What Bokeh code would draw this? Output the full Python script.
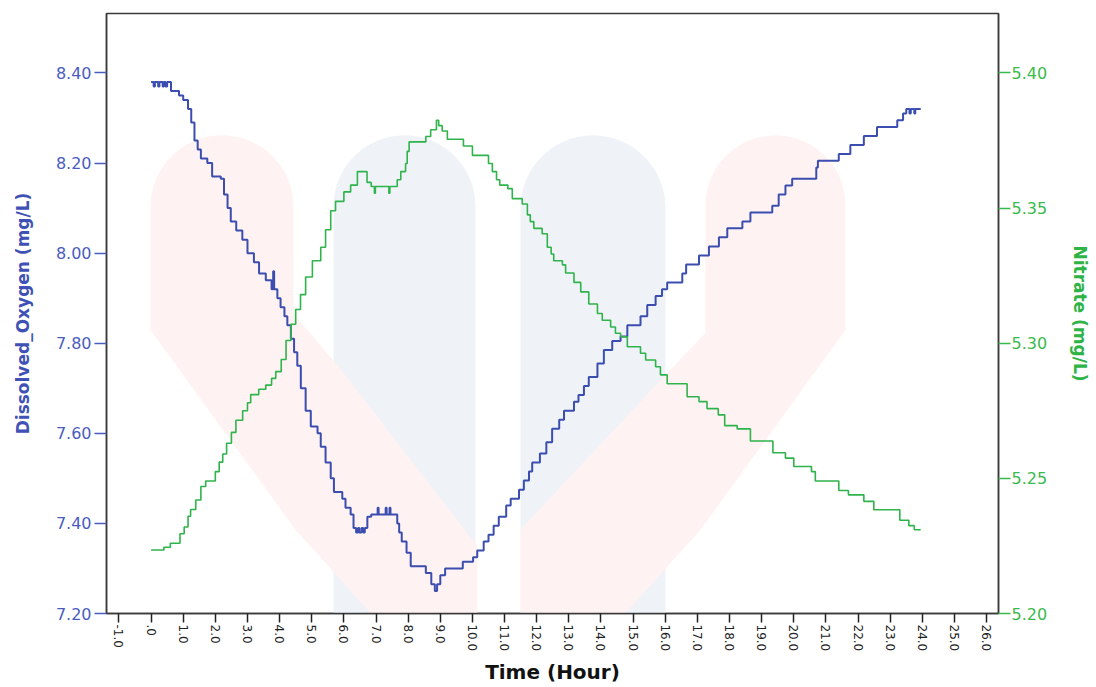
import math
from bokeh.plotting import figure
from bokeh.models import Range1d, LinearAxis, FixedTicker, PrintfTickFormatter
from bokeh.embed import file_html
from bokeh.resources import INLINE

# ---------------- data ----------------
do_time = [0.00, 0.08, 0.12, 0.22, 0.26, 0.36, 0.40, 0.45, 0.50,
           0.62, 0.87, 1.00, 1.15, 1.25, 1.35, 1.45, 1.55, 1.75, 1.90, 2.17,
           2.27, 2.38, 2.48, 2.65, 2.84, 3.00, 3.20, 3.36, 3.57, 3.75, 3.80,
           3.83, 3.93, 4.03, 4.15, 4.24, 4.35, 4.45, 4.55, 4.66, 4.81, 4.97,
           5.18, 5.28, 5.43, 5.59, 5.69, 5.95, 6.05, 6.21, 6.30, 6.38, 6.44,
           6.48, 6.55, 6.60, 6.65, 6.73, 6.85, 7.05, 7.08, 7.30, 7.33, 7.42,
           7.45, 7.66, 7.72, 7.80, 7.95, 8.08, 8.55, 8.72, 8.83, 8.90, 9.00,
           9.15, 9.70, 10.02, 10.15, 10.35, 10.50, 10.66, 10.82, 11.05, 11.19,
           11.45, 11.60, 11.76, 11.86, 12.10, 12.30, 12.48, 12.70, 12.85, 13.16,
           13.30, 13.47, 13.62, 13.89, 14.09, 14.35, 14.61, 14.82, 15.23, 15.44,
           15.70, 15.90, 16.06, 16.53, 16.65, 17.05, 17.36, 17.67, 17.93, 18.40,
           18.65, 19.33, 19.53, 19.74, 19.95, 20.70, 20.75, 21.40, 21.76, 22.18,
           22.59, 23.22, 23.40, 23.50, 23.60, 23.64, 23.75, 23.78, 23.95]
do_value = [8.38, 8.37, 8.38, 8.37, 8.38, 8.37, 8.38, 8.37, 8.38,
            8.36, 8.35, 8.34, 8.32, 8.29, 8.25, 8.23, 8.21, 8.20, 8.17, 8.165,
            8.13, 8.10, 8.07, 8.05, 8.03, 8.00, 7.98, 7.955, 7.94, 7.92, 7.96,
            7.92, 7.90, 7.88, 7.86, 7.84, 7.81, 7.78, 7.75, 7.70, 7.65, 7.615,
            7.60, 7.57, 7.535, 7.50, 7.47, 7.455, 7.435, 7.42, 7.39, 7.38, 7.39,
            7.38, 7.39, 7.38, 7.39, 7.415, 7.42, 7.435, 7.42, 7.435, 7.42, 7.435,
            7.42, 7.40, 7.38, 7.36, 7.335, 7.305, 7.29, 7.265, 7.25, 7.265, 7.285,
            7.30, 7.315, 7.325, 7.34, 7.36, 7.375, 7.395, 7.415, 7.44, 7.455,
            7.475, 7.495, 7.515, 7.535, 7.555, 7.58, 7.61, 7.63, 7.65, 7.67,
            7.685, 7.705, 7.725, 7.755, 7.785, 7.805, 7.815, 7.84, 7.86, 7.885,
            7.905, 7.92, 7.935, 7.955, 7.975, 7.995, 8.015, 8.035, 8.055, 8.07,
            8.09, 8.105, 8.13, 8.15, 8.165, 8.19, 8.205, 8.22, 8.24, 8.26,
            8.28, 8.295, 8.31, 8.32, 8.31, 8.32, 8.31, 8.32, 8.32]

no3_time = [0.00, 0.40, 0.60, 0.90, 1.03, 1.15, 1.23, 1.39, 1.55, 1.70,
            2.00, 2.12, 2.23, 2.35, 2.50, 2.64, 2.85, 3.00, 3.10, 3.35,
            3.57, 3.75, 3.88, 4.05, 4.20, 4.35, 4.50, 4.65, 4.81, 5.02,
            5.28, 5.43, 5.59, 5.74, 6.00, 6.21, 6.42, 6.72, 6.85, 6.95,
            6.98, 7.40, 7.43, 7.66, 7.77, 7.92, 7.97, 8.03, 8.55, 8.70,
            8.88, 8.95, 9.06, 9.22, 9.72, 10.00, 10.50, 10.62, 10.75, 10.85,
            11.10, 11.24, 11.55, 11.71, 11.80, 11.91, 12.17, 12.33, 12.45, 12.53,
            12.80, 12.90, 13.16, 13.37, 13.62, 13.89, 14.04, 14.30, 14.45, 14.61,
            14.82, 15.23, 15.39, 15.70, 15.85, 16.06, 16.68, 17.05, 17.30, 17.65,
            17.85, 18.24, 18.65, 19.35, 19.74, 20.00, 20.55, 20.67, 21.40, 21.70,
            22.18, 22.49, 23.30, 23.58, 23.75, 23.95]
no3_value = [5.2235, 5.2245, 5.2260, 5.2295, 5.2320, 5.2360, 5.2385, 5.2420, 5.2470, 5.2490,
             5.2525, 5.2560, 5.2590, 5.2630, 5.2670, 5.2715, 5.2750, 5.2780, 5.2810, 5.2830,
             5.2845, 5.2870, 5.2895, 5.2940, 5.3010, 5.3070, 5.3125, 5.3180, 5.3245, 5.3305,
             5.3355, 5.3420, 5.3490, 5.3525, 5.3560, 5.3585, 5.3635, 5.3595, 5.3580, 5.3555,
             5.3580, 5.3555, 5.3580, 5.3605, 5.3635, 5.3665, 5.3710, 5.3745, 5.3765, 5.3790,
             5.3825, 5.3805, 5.3785, 5.3755, 5.3730, 5.3695, 5.3665, 5.3635, 5.3605, 5.3585,
             5.3572, 5.3535, 5.3515, 5.3475, 5.3450, 5.3425, 5.3405, 5.3355, 5.3330, 5.3305,
             5.3290, 5.3260, 5.3225, 5.3190, 5.3145, 5.3110, 5.3085, 5.3060, 5.3037, 5.3024,
             5.2987, 5.2963, 5.2938, 5.2913, 5.2883, 5.2850, 5.2802, 5.2784, 5.2758, 5.2735,
             5.2695, 5.2683, 5.2638, 5.2595, 5.2575, 5.2544, 5.2525, 5.2490, 5.2455, 5.2439,
             5.2415, 5.2384, 5.2345, 5.2325, 5.2310, 5.2310]

x_ticks = list(range(-1, 27))
do_ticks = [7.20, 7.40, 7.60, 7.80, 8.00, 8.20, 8.40]
no3_ticks = [5.20, 5.25, 5.30, 5.35, 5.40]

x_title = "Time (Hour)"
do_title = "Dissolved_Oxygen (mg/L)"
no3_title = "Nitrate (mg/L)"

# ---------------- styles ----------------
X_RANGE = (-1.387, 26.37)
DO_RANGE = (7.20, 8.532)
NO3_RANGE = (5.20, 5.422)

DO_LINE = "#3b4daf"
NO3_LINE = "#2fb34b"
DO_TEXT = "#4a5cc0"
NO3_TEXT = "#3aba4c"
FONT = "DejaVu Sans"

p = figure(width=1096, height=687, output_backend="svg", toolbar_location=None,
           min_border_left=106, min_border_right=98, min_border_top=13, min_border_bottom=73,
           x_range=Range1d(*X_RANGE), y_range=Range1d(*DO_RANGE))
p.extra_y_ranges = {"no3": Range1d(*NO3_RANGE)}
p.background_fill_color = "white"
p.border_fill_color = "white"
p.outline_line_color = "#3a3a3a"
p.outline_line_width = 1.5
p.xgrid.visible = False
p.ygrid.visible = False

# ---------------- faint background watermark (frame-relative pixels) ----------------
FW, FH = 892.0, 601.0
def to_data(X, Y):
    return (X_RANGE[0] + X / FW * (X_RANGE[1] - X_RANGE[0]),
            DO_RANGE[0] + Y / FH * (DO_RANGE[1] - DO_RANGE[0]))

def arc(x0, x1, top):
    r = (x1 - x0) / 2.0
    cx, cy = (x0 + x1) / 2.0, top - r
    angs = [math.pi - math.pi * i / 30 for i in range(31)]
    return [(cx + r * math.cos(a), cy + r * math.sin(a)) for a in angs]

def poly(pts):
    d = [to_data(a, b) for a, b in pts]
    return [q[0] for q in d], [q[1] for q in d]

wm_blue = []
for x0, x1 in [(227, 369), (414, 559)]:
    wm_blue.append(poly([(x0, -5)] + arc(x0, x1, 479) + [(x1, -5)]))
wm_pink = []
wm_pink.append(poly([(44, 284)] + arc(44, 187, 479) +
                    [(187, 300), (230, 250), (371, 67), (371, -5), (269, -5), (189, 84)]))
wm_pink.append(poly([(599, 281)] + arc(599, 739, 479) +
                    [(739, 284), (594, 84), (514, -5), (414, -5), (414, 84), (560, 240)]))
p.patches([s[0] for s in wm_blue], [s[1] for s in wm_blue],
          fill_color="#eff3f8", line_color=None)
p.patches([s[0] for s in wm_pink], [s[1] for s in wm_pink],
          fill_color="#fef2f2", line_color=None)

# ---------------- data series ----------------
p.step(do_time, do_value, mode="after", line_color=DO_LINE, line_width=2)
p.step(no3_time, no3_value, mode="after", line_color=NO3_LINE, line_width=1.6,
       y_range_name="no3")

# ---------------- axes ----------------
xa = p.xaxis[0]
xa.ticker = FixedTicker(ticks=x_ticks)
xa.formatter = PrintfTickFormatter(format="%.1f")
xa.major_label_overrides = {0: ".0"}
xa.major_label_orientation = "vertical"
xa.major_label_text_font = FONT
xa.major_label_text_font_size = "12px"
xa.major_label_text_color = "#222222"
xa.major_label_standoff = 2
xa.major_tick_out = 9
xa.major_tick_in = 0
xa.major_tick_line_color = "#222222"
xa.major_tick_line_width = 1.5
xa.minor_tick_line_color = None
xa.axis_line_color = "#3a3a3a"
xa.axis_line_width = 1.5
xa.axis_label = x_title
xa.axis_label_text_font = FONT
xa.axis_label_text_font_style = "bold"
xa.axis_label_text_font_size = "20px"
xa.axis_label_text_color = "#111111"
xa.axis_label_standoff = 6

ya = p.yaxis[0]
ya.ticker = FixedTicker(ticks=do_ticks)
ya.formatter = PrintfTickFormatter(format="%.2f")
ya.major_label_text_font = FONT
ya.major_label_text_font_size = "16px"
ya.major_label_text_color = DO_TEXT
ya.major_label_standoff = 3
ya.major_tick_out = 12
ya.major_tick_in = 0
ya.major_tick_line_color = DO_TEXT
ya.major_tick_line_width = 1.5
ya.minor_tick_line_color = None
ya.axis_line_color = "#3a3a3a"
ya.axis_line_width = 1.5
ya.axis_label = do_title
ya.axis_label_text_font = FONT
ya.axis_label_text_font_style = "bold"
ya.axis_label_text_font_size = "17px"
ya.axis_label_text_color = "#3f51b5"
ya.axis_label_standoff = 20

ra = LinearAxis(y_range_name="no3", ticker=FixedTicker(ticks=no3_ticks),
                formatter=PrintfTickFormatter(format="%.2f"))
ra.major_label_text_font = FONT
ra.major_label_text_font_size = "16px"
ra.major_label_text_color = NO3_TEXT
ra.major_label_standoff = 1
ra.major_tick_out = 12
ra.major_tick_in = 0
ra.major_tick_line_color = NO3_TEXT
ra.major_tick_line_width = 1.5
ra.minor_tick_line_color = None
ra.axis_line_color = "#3a3a3a"
ra.axis_line_width = 1.5
ra.axis_label = no3_title
ra.axis_label_text_font = FONT
ra.axis_label_text_font_style = "bold"
ra.axis_label_text_font_size = "17px"
ra.axis_label_text_color = "#2eb346"
ra.axis_label_standoff = 20
p.add_layout(ra, "right")

open("out.html", "w").write(file_html(p, INLINE))
